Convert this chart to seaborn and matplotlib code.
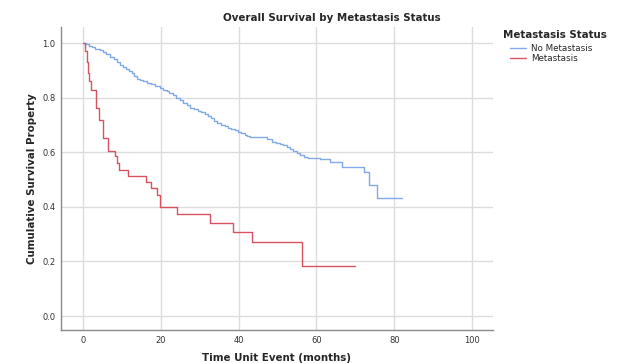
import pandas as pd
import numpy as np
import matplotlib
matplotlib.use("Agg")
import matplotlib.pyplot as plt
import seaborn as sns

# Kaplan-Meier step values (time in months, survival)
no_met_time = [0, 0.8, 1.5, 2.2, 3, 3.7, 4.4, 5.2, 6, 7, 8, 8.8, 9.5, 10.2, 11, 11.8,
               12.5, 13.2, 13.8, 14.6, 15.5, 16.5, 17.5, 18.6, 19.8, 20.6, 21.5,
               22.2, 23, 24, 25, 25.8, 26.7, 27.5, 28.5, 29.5, 30.4, 31.4, 32.2,
               33, 33.7, 34.4, 35.5, 36.5, 37.2, 38, 39, 39.9, 40.7, 41.5, 42.2,
               42.9, 47.2, 48.5, 49.5, 50.5, 51.4, 52.3, 53.2, 54, 54.9, 55.8,
               56.8, 57.9, 60.9, 63.5, 66.5, 72.3, 73.5, 75.7, 82.1]
no_met_surv = [1.0, 0.995, 0.99, 0.985, 0.98, 0.977, 0.974, 0.967, 0.96, 0.95, 0.94,
               0.93, 0.919, 0.912, 0.905, 0.897, 0.89, 0.88, 0.87, 0.865, 0.86, 0.855,
               0.85, 0.842, 0.834, 0.83, 0.825, 0.818, 0.81, 0.8, 0.79, 0.781, 0.773,
               0.761, 0.757, 0.752, 0.747, 0.742, 0.733, 0.725, 0.715, 0.706,
               0.7, 0.695, 0.69, 0.685, 0.68, 0.675, 0.67, 0.665, 0.661, 0.657,
               0.648, 0.638, 0.634, 0.63, 0.625, 0.62, 0.612, 0.605, 0.597, 0.59,
               0.584, 0.578, 0.574, 0.565, 0.547, 0.529, 0.48, 0.433, 0.433]

met_time = [0, 0.4, 0.95, 1.36, 1.6, 2.0, 3.3, 4.2, 5.2, 6.3, 8.2, 8.8, 9.3, 11.5,
            16.2, 17.4, 19.1, 19.8, 24.1, 32.6, 38.5, 43.4, 56.2, 69.9]
met_surv = [1.0, 0.97, 0.93, 0.89, 0.86, 0.828, 0.761, 0.718, 0.652, 0.606, 0.586,
            0.56, 0.535, 0.514, 0.492, 0.468, 0.443, 0.398, 0.374, 0.34, 0.307,
            0.27, 0.184, 0.184]

groups = ["No Metastasis", "Metastasis"]
colors = ["#82a9e8", "#d9525f"]

df = pd.concat([
    pd.DataFrame({"time": no_met_time, "surv": no_met_surv, "group": groups[0]}),
    pd.DataFrame({"time": met_time, "surv": met_surv, "group": groups[1]}),
], ignore_index=True)

sns.set_style("white")
plt.rcParams['font.family'] = ['DejaVu Sans']

fig = plt.figure(figsize=(6.18, 3.63), dpi=100)
ax = fig.add_axes([0.0987, 0.0909, 0.699, 0.8347])

sns.lineplot(data=df, x="time", y="surv", hue="group", hue_order=groups,
             palette=colors, estimator=None, sort=False, drawstyle="steps-post",
             linewidth=1.0, ax=ax, legend=False)

ax.set_xlim(-5.7, 105.4)
ax.set_ylim(-0.051, 1.059)
ax.set_xticks(np.arange(0, 101, 20))
ax.set_yticks(np.arange(0, 1.01, 0.2))
ax.set_yticklabels([f"{v:.1f}" for v in np.arange(0, 1.01, 0.2)])
ax.grid(True, color="#dcdcdc", linewidth=1.0)
ax.set_axisbelow(True)
ax.tick_params(length=0, labelsize=6, colors="#333333", pad=4)
for s in ["top", "right"]:
    ax.spines[s].set_visible(False)
for s in ["left", "bottom"]:
    ax.spines[s].set_color("#8a8a8a")
    ax.spines[s].set_linewidth(1.0)

ax.set_xlabel("Time Unit Event (months)", fontsize=7.4, fontweight="bold", labelpad=6)
ax.set_ylabel("Cumulative Survival Property", fontsize=7.4, fontweight="bold", labelpad=4)
fig.text(0.537, 0.95, "Overall Survival by Metastasis Status", ha="center", va="center",
         fontsize=7.4, fontweight="bold")

# legend title sits a little left of the entries, as in the original
fig.text(503 / 618, 1 - 35 / 363, "Metastasis Status", ha="left", va="center",
         fontsize=7.4, fontweight="bold")
handles = [plt.Line2D([], [], color=c, linewidth=1.0) for c in colors]
leg = fig.legend(handles, groups, loc="upper left", bbox_to_anchor=(510 / 618, 1 - 44 / 363),
                 frameon=False, fontsize=6.3, handlelength=1.8, handletextpad=0.6,
                 labelspacing=0.15, borderaxespad=0, borderpad=0)

fig.savefig("out.png", dpi=100)
